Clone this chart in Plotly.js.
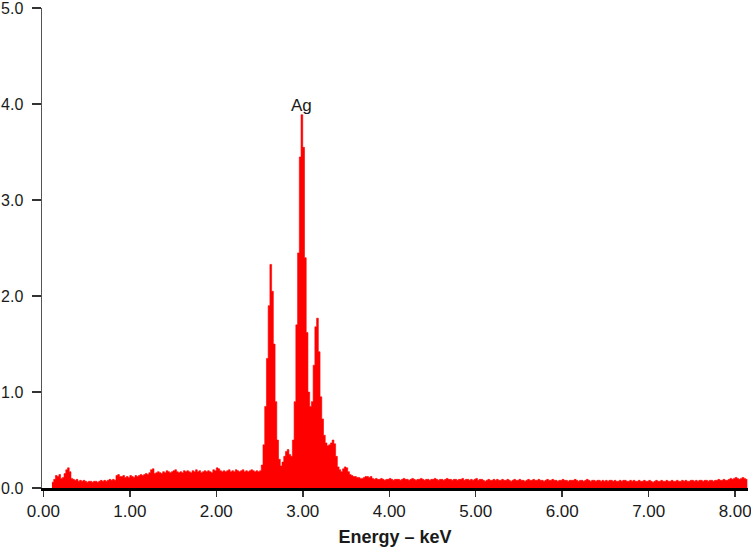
<!DOCTYPE html>
<html>
<head>
<meta charset="utf-8">
<title>EDS spectrum – Ag</title>
<script src="https://cdn.plot.ly/plotly-3.0.1.min.js"></script>
<style>
  html, body { margin: 0; padding: 0; background: #fff; }
  #chart { width: 751px; height: 547px; }
</style>
</head>
<body>
<div id="chart"></div>
<script>
// spectrum is binned: first bin starts at 0.10 keV, each bin 0.02 keV wide
const binStart = 0.10;
const binWidth = 0.02;

// counts (x1000), one row = 20 bins = 0.4 keV
const counts = [
  // 0.10 - 0.48
  0.06, 0.09, 0.13, 0.12, 0.14, 0.10, 0.11, 0.15, 0.19, 0.21, 0.17, 0.10, 0.09, 0.08, 0.09, 0.07, 0.08, 0.07, 0.08, 0.07,
  // 0.50 - 0.88
  0.06, 0.07, 0.07, 0.06, 0.07, 0.07, 0.06, 0.07, 0.08, 0.07, 0.08, 0.07, 0.08, 0.09, 0.08, 0.09, 0.08, 0.13, 0.14, 0.12,
  // 0.90 - 1.28
  0.12, 0.13, 0.11, 0.12, 0.11, 0.13, 0.12, 0.11, 0.13, 0.12, 0.13, 0.14, 0.13, 0.14, 0.15, 0.14, 0.16, 0.19, 0.20, 0.15,
  // 1.30 - 1.68
  0.16, 0.17, 0.16, 0.15, 0.17, 0.16, 0.18, 0.17, 0.16, 0.17, 0.18, 0.19, 0.17, 0.16, 0.17, 0.16, 0.18, 0.17, 0.18, 0.17,
  // 1.70 - 2.08
  0.16, 0.18, 0.17, 0.19, 0.17, 0.18, 0.16, 0.17, 0.18, 0.17, 0.18, 0.17, 0.16, 0.19, 0.18, 0.21, 0.20, 0.18, 0.17, 0.18,
  // 2.10 - 2.48
  0.17, 0.18, 0.19, 0.17, 0.18, 0.17, 0.19, 0.18, 0.17, 0.18, 0.19, 0.17, 0.18, 0.17, 0.18, 0.19, 0.18, 0.17, 0.18, 0.17,
  // 2.50 - 2.88 (first peak)
  0.18, 0.24, 0.45, 0.85, 1.35, 1.90, 2.33, 2.05, 1.50, 0.90, 0.50, 0.30, 0.23, 0.27, 0.33, 0.38, 0.40, 0.35, 0.33, 0.50,
  // 2.90 - 3.28 (Ag main peak + shoulder peak)
  0.90, 1.70, 2.45, 3.45, 3.89, 3.55, 2.40, 1.62, 1.00, 0.85, 0.90, 1.28, 1.68, 1.77, 1.42, 0.95, 0.72, 0.55, 0.47, 0.44,
  // 3.30 - 3.68
  0.45, 0.47, 0.50, 0.46, 0.33, 0.22, 0.19, 0.17, 0.20, 0.22, 0.21, 0.17, 0.14, 0.13, 0.12, 0.12, 0.11, 0.11, 0.10, 0.10,
  // 3.70 - 4.08
  0.11, 0.12, 0.12, 0.11, 0.12, 0.10, 0.09, 0.10, 0.09, 0.09, 0.10, 0.09, 0.08, 0.09, 0.09, 0.10, 0.09, 0.08, 0.09, 0.09,
  // 4.10 - 4.48
  0.09, 0.08, 0.09, 0.10, 0.09, 0.09, 0.08, 0.09, 0.10, 0.09, 0.08, 0.09, 0.09, 0.10, 0.09, 0.08, 0.09, 0.09, 0.08, 0.09,
  // 4.50 - 4.88
  0.09, 0.10, 0.09, 0.08, 0.09, 0.09, 0.08, 0.09, 0.10, 0.09, 0.09, 0.08, 0.09, 0.09, 0.08, 0.09, 0.09, 0.10, 0.08, 0.09,
  // 4.90 - 5.28
  0.09, 0.08, 0.09, 0.08, 0.09, 0.10, 0.08, 0.09, 0.09, 0.08, 0.07, 0.08, 0.09, 0.08, 0.08, 0.09, 0.08, 0.09, 0.08, 0.08,
  // 5.30 - 5.68
  0.09, 0.08, 0.08, 0.09, 0.08, 0.07, 0.08, 0.09, 0.08, 0.08, 0.09, 0.08, 0.08, 0.07, 0.08, 0.09, 0.08, 0.08, 0.09, 0.08,
  // 5.70 - 6.08
  0.08, 0.09, 0.08, 0.08, 0.07, 0.08, 0.09, 0.08, 0.08, 0.09, 0.08, 0.08, 0.07, 0.08, 0.08, 0.09, 0.08, 0.08, 0.07, 0.08,
  // 6.10 - 6.48
  0.08, 0.08, 0.09, 0.08, 0.07, 0.08, 0.08, 0.07, 0.08, 0.09, 0.08, 0.07, 0.08, 0.08, 0.07, 0.08, 0.08, 0.07, 0.08, 0.07,
  // 6.50 - 6.88
  0.08, 0.07, 0.08, 0.08, 0.07, 0.08, 0.07, 0.07, 0.08, 0.07, 0.08, 0.08, 0.07, 0.07, 0.08, 0.07, 0.08, 0.07, 0.07, 0.08,
  // 6.90 - 7.28
  0.07, 0.07, 0.08, 0.07, 0.07, 0.08, 0.07, 0.06, 0.07, 0.08, 0.07, 0.07, 0.08, 0.07, 0.07, 0.08, 0.07, 0.07, 0.08, 0.07,
  // 7.30 - 7.68
  0.07, 0.08, 0.07, 0.07, 0.08, 0.07, 0.08, 0.07, 0.07, 0.08, 0.08, 0.07, 0.08, 0.07, 0.08, 0.08, 0.07, 0.08, 0.08, 0.07,
  // 7.70 - 8.08
  0.08, 0.08, 0.07, 0.08, 0.08, 0.09, 0.08, 0.08, 0.09, 0.08, 0.08, 0.09, 0.10, 0.09, 0.10, 0.11, 0.10, 0.09, 0.10, 0.11,
  // 8.10 - 8.12
  0.10, 0.09
];

// axis ticks and peak label
const xTicks = [0, 1, 2, 3, 4, 5, 6, 7, 8];
const yTicks = [0, 1, 2, 3, 4, 5];
const peakLabel = 'Ag';
const peakEnergy = 2.99;
const peakCount = 3.89;

// bin left edges, plus one closing point so the last bin gets its width
const energy = counts.map((_, i) => +(binStart + i * binWidth).toFixed(2));
energy.push(+(binStart + counts.length * binWidth).toFixed(2));
const countsClosed = counts.concat([counts[counts.length - 1]]);

const font = 'Liberation Sans, Arial, Helvetica, sans-serif';

const trace = {
  x: energy,
  y: countsClosed,
  type: 'scatter',
  mode: 'lines',
  line: { shape: 'hv', color: '#ff0000', width: 0.6 },
  fill: 'tozeroy',
  fillcolor: '#ff0000',
  hoverinfo: 'x+y'
};

const layout = {
  width: 751,
  height: 547,
  margin: { l: 42, r: 3, t: 8, b: 59 },
  paper_bgcolor: '#fff',
  plot_bgcolor: '#fff',
  showlegend: false,
  font: { family: font, size: 17, color: '#1a1a1a' },
  xaxis: {
    range: [-0.015, 8.148],
    tickvals: xTicks,
    tickformat: '.2f',
    ticks: 'outside',
    ticklen: 6,
    tickwidth: 1.5,
    tickcolor: '#333',
    ticklabeloverflow: 'allow',
    showline: true,
    linecolor: '#000',
    linewidth: 3,
    showgrid: false,
    zeroline: false,
    tickfont: { family: font, size: 17, color: '#1a1a1a' },
    title: { text: '<b>Energy – keV</b>', font: { family: font, size: 18, color: '#1a1a1a' }, standoff: 10 }
  },
  yaxis: {
    range: [0, 5.002],
    tickvals: yTicks,
    tickformat: '.1f',
    ticks: 'outside',
    ticklen: 9,
    tickwidth: 1.5,
    tickcolor: '#333',
    ticklabelstandoff: 5,
    ticklabeloverflow: 'allow',
    showline: true,
    linecolor: '#555',
    linewidth: 1.5,
    showgrid: false,
    zeroline: false,
    tickfont: { family: font, size: 16, color: '#1a1a1a' }
  },
  annotations: [{
    x: peakEnergy, y: peakCount,
    text: peakLabel,
    showarrow: false,
    yanchor: 'bottom',
    yshift: -2,
    font: { family: font, size: 17, color: '#1a1a1a' }
  }]
};

Plotly.newPlot('chart', [trace], layout, { displayModeBar: false, staticPlot: true });
</script>
</body>
</html>
